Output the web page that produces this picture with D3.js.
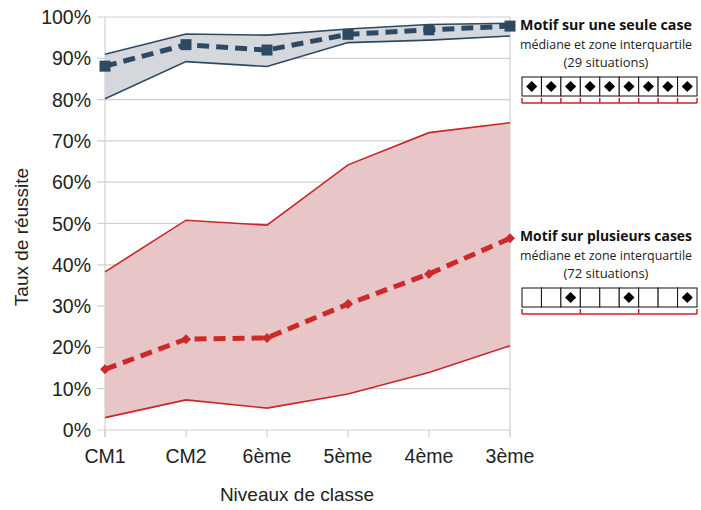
<!DOCTYPE html>
<html><head><meta charset="utf-8">
<script src="https://cdn.jsdelivr.net/npm/d3@7"></script>
<style>body{margin:0;background:#fff}svg{display:block}</style>
</head><body><svg id="c" width="701" height="510"></svg>
<script>
const levels = ["CM1","CM2","6ème","5ème","4ème","3ème"];
const yTicks = [0,10,20,30,40,50,60,70,80,90,100];
const singleMedian = [88.1,93.3,92.0,95.8,96.9,97.8];
const singleQ1     = [80.2,89.2,88.0,93.8,94.4,95.4];
const singleQ3     = [91.0,95.9,95.6,97.1,98.2,98.5];
const multiMedian  = [14.7,22.0,22.3,30.5,37.8,46.4];
const multiQ1      = [3.0,7.3,5.3,8.7,13.9,20.4];
const multiQ3      = [38.3,50.8,49.6,64.2,72.0,74.4];
const legendSingle = ["Motif sur une seule case","médiane et zone interquartile","(29 situations)"];
const legendMulti  = ["Motif sur plusieurs cases","médiane et zone interquartile","(72 situations)"];
const singleCells = [1,1,1,1,1,1,1,1,1];
const multiCells  = [0,0,1,0,0,1,0,0,1];

const svg = d3.select("#c");
const x = d3.scalePoint().domain(levels).range([105,510]);
const y = d3.scaleLinear().domain([0,100]).range([430,17]);
const font = "'Liberation Sans', Arial, sans-serif";
const grid = "#d0d0d0";

svg.append("g").selectAll("line").data(yTicks).join("line")
  .attr("x1",97).attr("x2",510).attr("y1",d=>y(d)).attr("y2",d=>y(d))
  .attr("stroke",grid).attr("stroke-width",1.2);
svg.append("line").attr("x1",105).attr("x2",105).attr("y1",y(100)).attr("y2",437).attr("stroke",grid).attr("stroke-width",1.2);
svg.append("line").attr("x1",510).attr("x2",510).attr("y1",y(100)).attr("y2",437).attr("stroke",grid).attr("stroke-width",1.2);
svg.append("g").selectAll("line").data(levels).join("line")
  .attr("x1",d=>x(d)).attr("x2",d=>x(d)).attr("y1",430).attr("y2",437)
  .attr("stroke",grid).attr("stroke-width",1.2);

svg.append("g").selectAll("text").data(yTicks).join("text")
  .attr("x",91).attr("y",d=>y(d)+7).attr("text-anchor","end")
  .attr("font-family",font).attr("font-size",19.5).attr("fill","#222")
  .text(d=>d+"%");
svg.append("g").selectAll("text").data(levels).join("text")
  .attr("x",d=>x(d)).attr("y",463).attr("text-anchor","middle")
  .attr("font-family",font).attr("font-size",19.5).attr("fill","#222")
  .text(d=>d);
svg.append("text").attr("x",297).attr("y",501).attr("text-anchor","middle")
  .attr("font-family",font).attr("font-size",19).attr("fill","#222").text("Niveaux de classe");
svg.append("text").attr("transform","translate(28,237) rotate(-90)").attr("text-anchor","middle")
  .attr("font-family",font).attr("font-size",19).attr("fill","#222").text("Taux de réussite");

function band(q1,q3,fill,stroke){
  const area = d3.area().x((d,i)=>x(levels[i])).y0((d,i)=>y(q1[i])).y1(d=>y(d));
  svg.append("path").attr("d",area(q3)).attr("fill",fill);
  const line = d3.line().x((d,i)=>x(levels[i])).y(d=>y(d));
  svg.append("path").attr("d",line(q3)).attr("fill","none").attr("stroke",stroke).attr("stroke-width",1.6);
  svg.append("path").attr("d",line(q1)).attr("fill","none").attr("stroke",stroke).attr("stroke-width",1.6);
}
band(multiQ1,multiQ3,"#e8c5c7","#c8262a");
band(singleQ1,singleQ3,"#d4d8dd","#2e4a63");

const line = d3.line().x((d,i)=>x(levels[i])).y(d=>y(d));
svg.append("path").attr("d",line(multiMedian)).attr("fill","none").attr("stroke","#cc2a2a")
  .attr("stroke-width",5).attr("stroke-dasharray","12,7");
svg.append("g").selectAll("path").data(multiMedian).join("path")
  .attr("d",d3.symbol(d3.symbolSquare,50))
  .attr("transform",(d,i)=>`translate(${x(levels[i])},${y(d)}) rotate(45)`).attr("fill","#cc2a2a");
svg.append("path").attr("d",line(singleMedian)).attr("fill","none").attr("stroke","#2e4a63")
  .attr("stroke-width",5).attr("stroke-dasharray","12,7");
svg.append("g").selectAll("rect").data(singleMedian).join("rect")
  .attr("x",(d,i)=>x(levels[i])-5.5).attr("y",d=>y(d)-5.5).attr("width",11).attr("height",11)
  .attr("fill","#2e4a63");

function fitText(sel, base, width){
  sel.attr("font-size", base);
  const w = sel.node().getComputedTextLength();
  if (w > 0) sel.attr("font-size", (base*width/w).toFixed(2));
}
function legend(lines,y0,cells,cy,ch,bracketTicks){
  const lf = "'Open Sans', sans-serif";
  const t0 = svg.append("text").attr("x",520).attr("y",y0).attr("font-family",lf)
    .attr("font-weight","bold").attr("fill","#111").text(lines[0]);
  fitText(t0,15,172);
  const t1 = svg.append("text").attr("x",520).attr("y",y0+19).attr("font-family",lf)
    .attr("fill","#222").text(lines[1]);
  fitText(t1,14,172);
  const t2 = svg.append("text").attr("x",606).attr("y",y0+37).attr("text-anchor","middle").attr("font-family",lf)
    .attr("fill","#222").text(lines[2]);
  fitText(t2,14,85);
  const cx = d3.scaleLinear().domain([0,9]).range([522,697]);
  const g = svg.append("g");
  g.selectAll("rect").data(cells).join("rect")
    .attr("x",(d,i)=>cx(i)).attr("y",cy).attr("width",cx(1)-cx(0)).attr("height",ch)
    .attr("fill","#fff").attr("stroke","#111").attr("stroke-width",1);
  g.selectAll("path").data(cells.map((d,i)=>[d,i]).filter(d=>d[0])).join("path")
    .attr("d",d3.symbol(d3.symbolSquare,62))
    .attr("transform",d=>`translate(${cx(d[1]+0.5)},${cy+ch/2}) rotate(45)`).attr("fill","#000");
  const by = cy+ch+7;
  g.append("line").attr("x1",cx(0)).attr("x2",cx(9)).attr("y1",by).attr("y2",by).attr("stroke","#c8262a").attr("stroke-width",1.5);
  g.selectAll(".t").data(bracketTicks).join("line").attr("class","t")
    .attr("x1",d=>cx(d)).attr("x2",d=>cx(d)).attr("y1",by-5).attr("y2",by).attr("stroke","#c8262a").attr("stroke-width",1.5);
}
legend(legendSingle,30,singleCells,77,19,d3.range(10));
legend(legendMulti,241,multiCells,288,19,[0,3,6,9]);
</script></body></html>
